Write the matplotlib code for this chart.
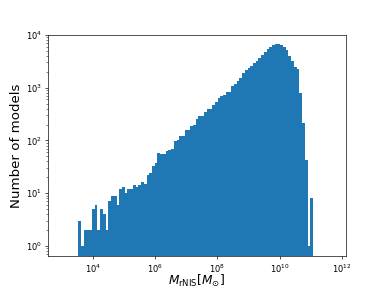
import numpy as np
import matplotlib
matplotlib.use('Agg')
import matplotlib.pyplot as plt

#log10 of the first and last bin edge, number of bins
log_mass_min=3.53
log_mass_max=11.07
n_bins=86

#number of models per bin
counts=[3, 1, 2, 2, 2, 5, 6, 2, 5, 4,
        2, 7, 9, 9, 6, 12, 13, 10, 12, 12,
        14, 13, 14, 16, 15, 22, 24, 33, 37, 58,
        56, 56, 62, 65, 70, 96, 103, 123, 120, 155,
        155, 185, 200, 250, 285, 285, 345, 390, 390, 470,
        545, 625, 710, 730, 835, 845, 1090, 1160, 1340, 1550,
        1900, 2200, 2400, 2550, 2950, 3250, 3650, 4200, 4800, 5340,
        5900, 6550, 6750, 6700, 6350, 6000, 5100, 4000, 3200, 2500,
        2300, 775, 215, 43, 1, 8]

edges=10**np.linspace(log_mass_min,log_mass_max,n_bins+1)
centers=np.sqrt(edges[:-1]*edges[1:])

fig,ax=plt.subplots(figsize=(6.4,4.8),dpi=60)

ax.hist(centers,bins=edges,weights=counts,log=True,color='C0')

ax.set_xscale('log')
ax.set_xlim(10**2.557,10**12.115)
ax.set_ylim(10**-0.196,10**4.006)

#label closer to the axis so it stays inside the figure
ax.set_xlabel(r'$M_{\rm rNIS}[M_{\odot}]$',fontsize=14.5,labelpad=-1.8)
ax.set_ylabel('Number of models',fontsize=16)

plt.savefig('out.png')
plt.close()
